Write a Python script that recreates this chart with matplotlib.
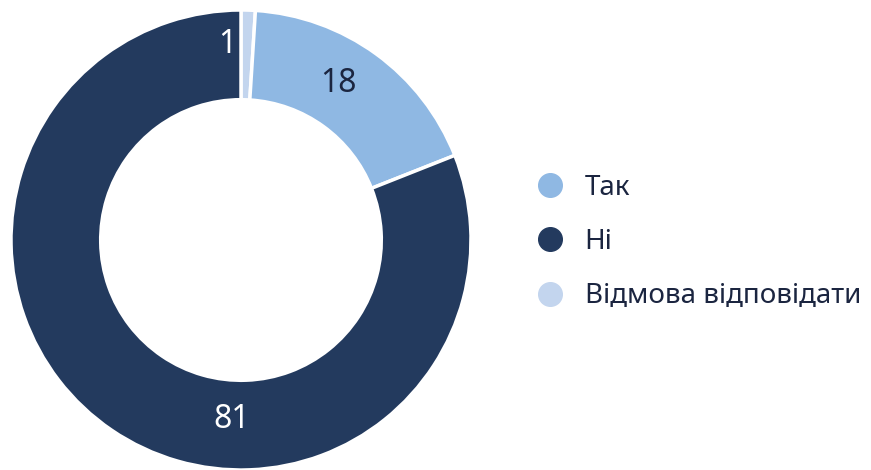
import numpy as np
import matplotlib.pyplot as plt
from matplotlib.lines import Line2D

plt.rcParams['font.family'] = ['Noto Sans', 'DejaVu Sans']

# data
labels = ["Так", "Ні", "Відмова відповідати"]
values = [18, 81, 1]
colors = ["#8FB8E3", "#233A5E", "#C3D5EE"]

# drawing order clockwise from 12 o'clock: refusal, yes, no
order = [2, 0, 1]

fig = plt.figure(figsize=(8.71, 4.70), dpi=100)
ax = fig.add_axes([11 / 871, 0, 460 / 871, 460 / 470])

wedges, _ = ax.pie([values[i] for i in order], colors=[colors[i] for i in order],
                   startangle=90, counterclock=False, radius=1.0,
                   wedgeprops=dict(width=0.39, edgecolor="white", linewidth=2.5))
ax.set_xlim(-1, 1)
ax.set_ylim(-1, 1)
ax.set_aspect("equal")

# value labels (polar positions in the ring, picked to match the original)
label_pos = {0: (0.80, 58), 1: (0.78, -93), 2: (0.85, 94)}
label_col = {0: "#1B2540", 1: "white", 2: "white"}
for i, (r, ang) in label_pos.items():
    a = np.deg2rad(ang)
    ax.text(r * np.cos(a), r * np.sin(a), str(values[i]), ha="center", va="center",
            fontsize=23, color=label_col[i])

handles = [Line2D([0], [0], marker="o", linestyle="", markersize=17,
                  markerfacecolor=c, markeredgecolor=c) for c in colors]
fig.legend(handles, labels, loc="center left", bbox_to_anchor=(522 / 871, 1 - 242 / 470),
           frameon=False, fontsize=20, labelcolor="#1B2540", labelspacing=0.95,
           handletextpad=0.75, borderpad=0, handlelength=1.0)

fig.savefig("out.png", dpi=100)
